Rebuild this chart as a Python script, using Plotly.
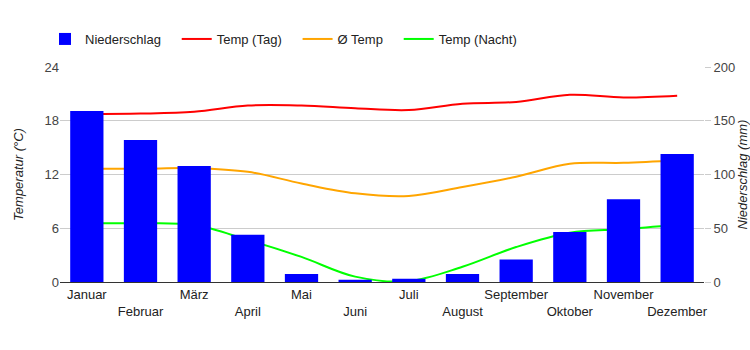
import plotly.graph_objects as go

months = ["Januar", "Februar", "März", "April", "Mai", "Juni", "Juli",
          "August", "September", "Oktober", "November", "Dezember"]
precip = [159, 132, 108, 44, 7.5, 2, 3, 7.5, 21, 46.5, 77, 119]
temp_day = [18.75, 18.8, 19.0, 19.7, 19.7, 19.4, 19.2, 19.9, 20.1, 20.9, 20.6, 20.8]
temp_avg = [12.65, 12.65, 12.7, 12.3, 11.0, 9.9, 9.6, 10.6, 11.75, 13.2, 13.3, 13.6]
temp_night = [6.55, 6.55, 6.35, 4.7, 2.8, 0.6, 0.1, 1.7, 3.9, 5.5, 5.9, 6.4]
series_names = ["Niederschlag", "Temp (Tag)", "Ø Temp", "Temp (Nacht)"]

tick_text = [m if i % 2 == 0 else "<br>" + m for i, m in enumerate(months)]
pad = "\u00a0" * 3

font = "Liberation Sans, Arial, sans-serif"
fig = go.Figure()
fig.add_trace(go.Bar(x=months, y=precip, name=series_names[0] + pad, marker_color="#0000FF",
                     marker_line_width=0, yaxis="y2"))
fig.add_trace(go.Scatter(x=months, y=temp_day, name=series_names[1] + pad, mode="lines",
                         line=dict(color="#FF0000", width=2, shape="spline", smoothing=1)))
fig.add_trace(go.Scatter(x=months, y=temp_avg, name=series_names[2] + pad, mode="lines",
                         line=dict(color="#FFA500", width=2, shape="spline", smoothing=1)))
fig.add_trace(go.Scatter(x=months, y=temp_night, name=series_names[3], mode="lines",
                         line=dict(color="#00FF00", width=2, shape="spline", smoothing=1)))

fig.update_layout(
    width=750, height=350,
    margin=dict(l=60, r=46, t=67, b=68, autoexpand=False),
    paper_bgcolor="white", plot_bgcolor="white",
    font=dict(family=font, size=13, color="#444"),
    bargap=0.38,
    legend=dict(orientation="h", xref="container", yref="container",
                x=0.06, y=1 - 39 / 350, xanchor="left", yanchor="middle",
                font=dict(size=13, color="#222"), traceorder="normal",
                itemwidth=30),
    xaxis=dict(tickmode="array", tickvals=months, ticktext=tick_text, tickangle=0,
               showgrid=False, showline=True, linecolor="#333", linewidth=1,
               ticks="", tickfont=dict(size=13, color="#222")),
    yaxis=dict(range=[0, 24], tickvals=[0, 6, 12, 18, 24], showgrid=True,
               gridcolor="#cccccc", zeroline=False, ticks="",
               title=dict(text="<i>Temperatur (°C)</i>", font=dict(size=13, color="#222"), standoff=17),
               tickfont=dict(size=13, color="#444")),
    yaxis2=dict(range=[0, 200], tickvals=[0, 50, 100, 150, 200], overlaying="y", side="right",
                showgrid=False, zeroline=False, ticks="outside", ticklen=6, tickcolor="#cccccc",
                title=dict(text="<i>Niederschlag (mm)</i>", font=dict(size=13, color="#222"), standoff=4),
                tickfont=dict(size=13, color="#444")),
)
fig.write_html("out.html")
